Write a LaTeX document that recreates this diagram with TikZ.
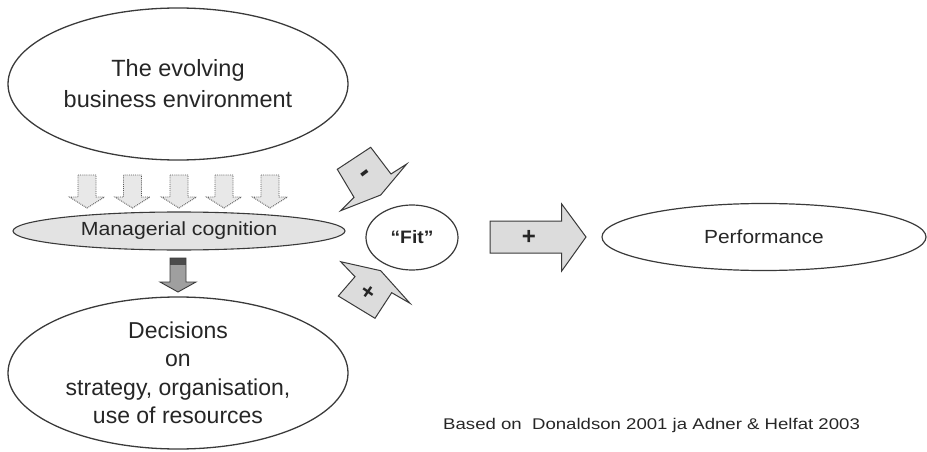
\documentclass[tikz,border=0pt]{standalone}
\usepackage{fontspec}
\setmainfont{Liberation Sans}
\usetikzlibrary{shapes.geometric}
\definecolor{ink}{HTML}{262626}
\definecolor{edge}{HTML}{3A3A3A}
\definecolor{boxfill}{HTML}{DCDCDC}
\definecolor{speck}{HTML}{E3E3E3}
\newcommand{\fs}[2]{\fontsize{#1}{#2}\selectfont}
\newcommand{\hx}[2]{\scalebox{#1}[1]{#2}}
\tikzset{
  oval/.style={ellipse, draw=edge, line width=1.3pt, inner sep=0pt, text=ink, align=center},
  blockarrow/.style={draw=edge, fill=boxfill, line width=1pt, line join=miter},
  smallarrow/.style={draw=gray!70!black, fill=gray!18, line width=0.9pt, densely dotted},
  lbl/.style={text=ink, inner sep=0pt}
}
\begin{document}
\begin{tikzpicture}[x=1pt,y=-1pt]
\useasboundingbox (0,0) rectangle (927,452);
% ellipses
\node[oval, minimum width=340, minimum height=152, font=\fs{23.5}{31}] (env) at (178,84) {The evolving\\business environment};
\node[oval, fill=speck, minimum width=332, minimum height=38, line width=1.1pt] (cog) at (179,231) {\fs{19}{22}\hx{1.12}{Managerial cognition}};
\node[oval, minimum width=340, minimum height=152, font=\fs{23}{28.5}] (dec) at (178,373) {Decisions\\on\\strategy, organisation,\\use of resources};
\node[oval, minimum width=92, minimum height=65, line width=1.2pt] (fit) at (412,237.5) {\fs{18}{20}\bfseries\hx{1.07}{“Fit”}};
\node[oval, minimum width=324, minimum height=67, line width=1.2pt] (perf) at (764,237) {\fs{19}{22}\hx{1.1}{Performance}};
% small dotted arrows
\foreach \cx in {87,132.5,179,224,270}{
  \draw[smallarrow] (\cx-9,175) -- (\cx+9,175) -- (\cx+9,197) -- (\cx+17.5,197) -- (\cx,208) -- (\cx-17.5,197) -- (\cx-9,197) -- cycle;
}
% dark arrow
\fill[gray!75] (170,258) -- (186,258) -- (186,282) -- (196,282) -- (178,292) -- (160,282) -- (170,282) -- cycle;
\fill[black!70] (170,258) rectangle (186,265);
\draw[edge, line width=0.9pt] (170,258) -- (186,258) -- (186,282) -- (196,282) -- (178,292) -- (160,282) -- (170,282) -- cycle;
% diagonal arrows
\draw[blockarrow] (337.3,169.3) -- (370.7,147.3) -- (391,174) -- (406.7,164) -- (380.7,195) -- (340.7,210.7) -- (354,197.3) -- cycle;
\node[lbl, rotate=37, font=\fs{30}{30}\bfseries] (minus) at (366.7,176) {-};
\draw[blockarrow] (340.7,261.7) -- (380.7,270.7) -- (410,303.3) -- (391.7,292.7) -- (375,318.3) -- (338.3,296) -- (355,276.7) -- cycle;
\node[lbl, rotate=-35, font=\fs{23}{23}\bfseries] (plusb) at (368.3,293.3) {+};
% right arrow
\draw[blockarrow] (490,221) -- (561.7,221) -- (561.7,204) -- (586,237) -- (561.7,271) -- (561.7,253) -- (490,253) -- cycle;
\node[lbl, font=\fs{24}{24}\bfseries] (plusr) at (529,237.5) {+};
% caption
\node[lbl, anchor=west, font=\fs{15.5}{18}] (cap) at (443,425) {\hx{1.2}{Based on\ \ Donaldson 2001 ja Adner \& Helfat 2003}};
\end{tikzpicture}
\end{document}
